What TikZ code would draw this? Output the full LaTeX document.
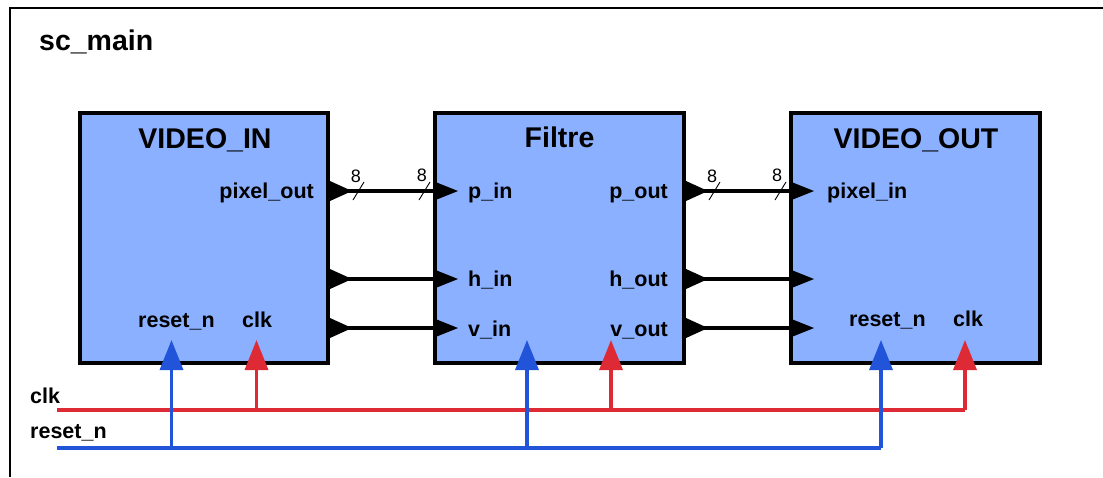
\documentclass[tikz,border=0pt]{standalone}
\usepackage{fontspec}
\setmainfont{Liberation Sans}
\usetikzlibrary{arrows.meta}
\definecolor{boxfill}{RGB}{138,176,255}
\definecolor{clkred}{RGB}{221,42,52}
\definecolor{rstblue}{RGB}{34,84,218}
\tikzset{
  blk/.style={draw=black, line width=4pt, fill=boxfill, inner sep=0pt},
  ttl/.style={font=\fontsize{28.5}{32}\selectfont\bfseries, inner sep=0pt},
  lbl/.style={font=\fontsize{21.5}{25}\selectfont\bfseries, inner sep=0pt},
  small/.style={font=\fontsize{18}{20}\selectfont, inner sep=0pt},
  sig/.style={draw=black, line width=3.5pt},
  clkw/.style={draw=clkred, line width=3.5pt},
  rstw/.style={draw=rstblue, line width=3.5pt},
  uptip/.style={-{Triangle[length=30pt,width=23pt]}},
  outtri/.pic={\fill[black] (0,-10) -- (22,0) -- (0,10) -- cycle;},
  intri/.pic={\fill[black] (0,-10) -- (25,0) -- (0,10) -- cycle;},
}
\begin{document}
\begin{tikzpicture}[x=1pt,y=-1pt]
\useasboundingbox (0,0) rectangle (1103,477);
\fill[white] (0,0) rectangle (1103,477);
% outer frame
\coordinate (fbl) at (10,477);
\coordinate (ftl) at (10,8);
\coordinate (ftr) at (1103,8);
\draw[line width=2pt] (fbl) -- (ftl) -- (ftr);
\node[ttl, anchor=base west] (main) at (39,50) {sc\_main};

% blocks
\node[blk, minimum width=248pt, minimum height=250pt] (vin) at (204,238) {};
\node[blk, minimum width=249pt, minimum height=250pt] (filt) at (559.5,238) {};
\node[blk, minimum width=249pt, minimum height=250pt] (vout) at (915.5,238) {};

% titles
\node[ttl, anchor=base] (vint) at (205,148) {VIDEO\_IN};
\node[ttl, anchor=base] (filtt) at (559.5,147) {Filtre};
\node[ttl, anchor=base] (voutt) at (916,148) {VIDEO\_OUT};

% port labels
\node[lbl, anchor=base east] (l1) at (314,198) {pixel\_out};
\node[lbl, anchor=base west] (l2) at (138,327) {reset\_n};
\node[lbl, anchor=base west] (l3) at (242,327) {clk};
\node[lbl, anchor=base west] (l4) at (468,198) {p\_in};
\node[lbl, anchor=base west] (l5) at (468,286) {h\_in};
\node[lbl, anchor=base west] (l6) at (468,336) {v\_in};
\node[lbl, anchor=base east] (l7) at (668,198) {p\_out};
\node[lbl, anchor=base east] (l8) at (668,286) {h\_out};
\node[lbl, anchor=base east] (l9) at (668,336) {v\_out};
\node[lbl, anchor=base west] (l10) at (827,198) {pixel\_in};
\node[lbl, anchor=base west] (l11) at (849,326) {reset\_n};
\node[lbl, anchor=base west] (l12) at (953,326) {clk};

% port coordinates
\foreach \n/\y in {p/191,h/279,v/328}{
  \coordinate (vin-\n) at (vin.east |- 0,\y);
  \coordinate (filtin-\n) at (filt.west |- 0,\y);
  \coordinate (filtout-\n) at (filt.east |- 0,\y);
  \coordinate (vout-\n) at (vout.west |- 0,\y);
}
% data connectors
\foreach \n in {p,h,v}{
  \draw[sig] (vin-\n) -- (filtin-\n);
  \draw[sig] (filtout-\n) -- (vout-\n);
  \pic at (vin-\n) {outtri};
  \pic at (filtin-\n) {intri};
  \pic at (filtout-\n) {outtri};
  \pic at (vout-\n) {intri};
}
% bus width marks
\foreach \x in {353,419,709,775}{
  \draw[line width=0.9pt] (\x,200) -- (\x+11,182);
}
\node[small] (b1) at (356,176) {8};
\node[small] (b2) at (422,175) {8};
\node[small] (b3) at (712,176) {8};
\node[small] (b4) at (777,175) {8};

% clock and reset
\node[lbl, anchor=base west] (clkl) at (30,403) {clk};
\node[lbl, anchor=base west] (rstl) at (30,438) {reset\_n};
\coordinate (clkA) at (57,410);
\coordinate (clk1) at (256.5,410);
\coordinate (clk2) at (611,410);
\coordinate (clk3) at (965,410);
\coordinate (rstA) at (57,448);
\coordinate (rst1) at (171.5,448);
\coordinate (rst2) at (527,448);
\coordinate (rst3) at (881,448);
\coordinate (vin-clk) at (256.5,340);
\coordinate (filt-clk) at (611,340);
\coordinate (vout-clk) at (965,340);
\coordinate (vin-rst) at (171.5,340);
\coordinate (filt-rst) at (527,340);
\coordinate (vout-rst) at (881,340);

\draw[clkw] (clkA) -- (clk3);
\draw[clkw, uptip] (clk1) -- (vin-clk);
\draw[clkw, uptip] (clk2) -- (filt-clk);
\draw[clkw, uptip] (clk3) -- (vout-clk);
\draw[rstw] (rstA) -- (rst3);
\draw[rstw, uptip] (rst1) -- (vin-rst);
\draw[rstw, uptip] (rst2) -- (filt-rst);
\draw[rstw, uptip] (rst3) -- (vout-rst);
\end{tikzpicture}
\end{document}
